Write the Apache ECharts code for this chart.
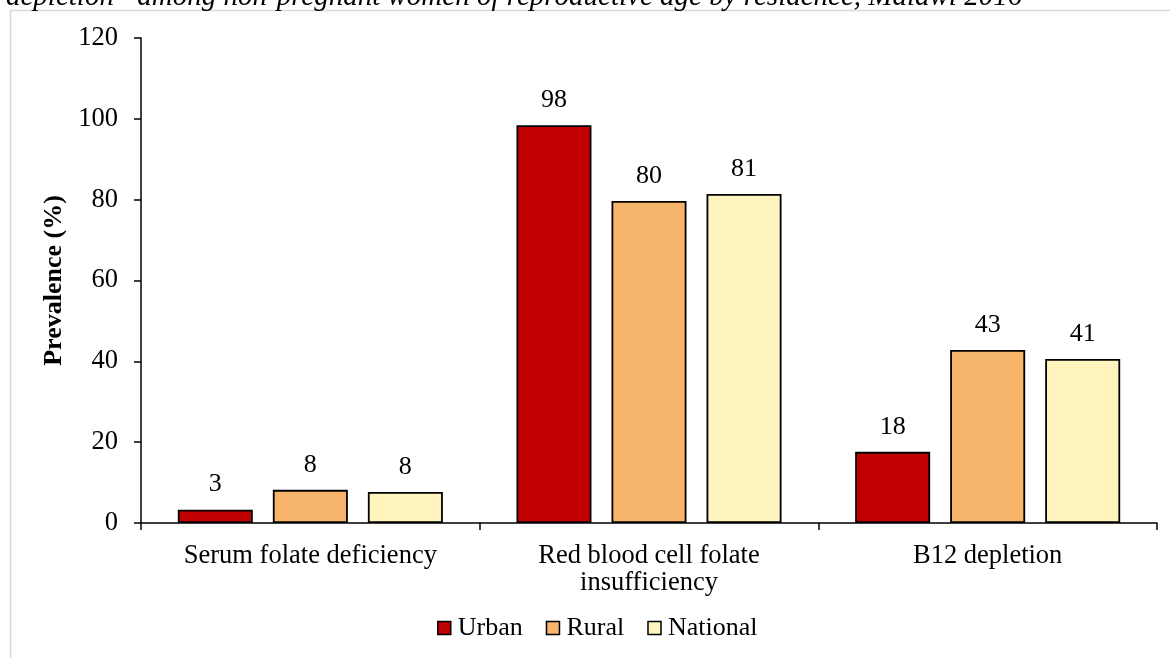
<!DOCTYPE html>
<html>
<head>
<meta charset="utf-8">
<script src="https://cdn.jsdelivr.net/npm/echarts@6/dist/echarts.min.js"></script>
<style>
  html, body { margin: 0; padding: 0; background: #fff; }
  #chart { width: 1170px; height: 658px; }
</style>
</head>
<body>
<div id="chart"></div>
<script>
// values
const categories = ["Serum folate deficiency", "Red blood cell folate\ninsufficiency", "B12 depletion"];
const urban = [3.3, 98.4, 17.6];
const rural = [8.2, 79.7, 42.8];
const national = [7.7, 81.4, 40.6];
const yTicks = { min: 0, max: 120, interval: 20 };

const serif = "'Liberation Serif', 'DejaVu Serif', serif";

const chart = echarts.init(document.getElementById("chart"));

const barSeries = (name, data, color) => ({
  name,
  type: "bar",
  data,
  barWidth: 75,
  barGap: "26.7%",
  itemStyle: { color, borderColor: "#000", borderWidth: 1.8 },
  label: {
    show: true,
    position: "top",
    distance: 12,
    fontFamily: serif,
    fontSize: 26,
    color: "#000",
    formatter: p => Math.round(p.value),
  },
});

chart.setOption({
  backgroundColor: "#fff",
  animation: false,
  textStyle: { fontFamily: serif },
  graphic: [
    {
      type: "rect",
      shape: { x: 10.5, y: 10.5, width: 1200, height: 700 },
      style: { fill: "none", stroke: "#d9d9d9", lineWidth: 1.5 },
      silent: true,
    },
    {
      type: "text",
      style: {
        x: 6,
        y: 12,
        verticalAlign: "bottom",
        text: "depletion\u201D among non-pregnant women of reproductive age by residence, Malawi 2016",
        font: "italic 29px 'Liberation Serif', serif",
        fill: "#000",
      },
    },
  ],
  grid: { left: 141, right: 13, top: 38, bottom: 135 },
  legend: {
    data: ["Urban", "Rural", "National"],
    top: 610,
    left: 432,
    icon: "rect",
    itemWidth: 13,
    itemHeight: 13,
    itemGap: 23,
    textStyle: { fontFamily: serif, fontSize: 26, color: "#000", padding: [0, 0, 0, 2] },
    itemStyle: { borderColor: "#000", borderWidth: 1.5 },
  },
  xAxis: {
    type: "category",
    data: categories,
    axisLine: { lineStyle: { color: "#000", width: 1.5 } },
    axisTick: { show: true, length: 7, lineStyle: { color: "#000", width: 1.5 } },
    axisLabel: { fontFamily: serif, fontSize: 26.5, color: "#000", margin: 20, lineHeight: 27 },
  },
  yAxis: {
    type: "value",
    min: yTicks.min,
    max: yTicks.max,
    interval: yTicks.interval,
    name: "Prevalence (%)",
    nameLocation: "middle",
    nameGap: 71,
    nameTextStyle: { fontFamily: serif, fontSize: 26, fontWeight: "bold", color: "#000" },
    axisLine: { show: true, lineStyle: { color: "#000", width: 1.5 } },
    axisTick: { show: true, length: 7, lineStyle: { color: "#000", width: 1.5 } },
    axisLabel: { fontFamily: serif, fontSize: 26.5, color: "#000", margin: 23 },
    splitLine: { show: false },
  },
  series: [
    barSeries("Urban", urban, "#C00000"),
    barSeries("Rural", rural, "#F7B56B"),
    barSeries("National", national, "#FFF4BE"),
  ],
});
</script>
</body>
</html>
